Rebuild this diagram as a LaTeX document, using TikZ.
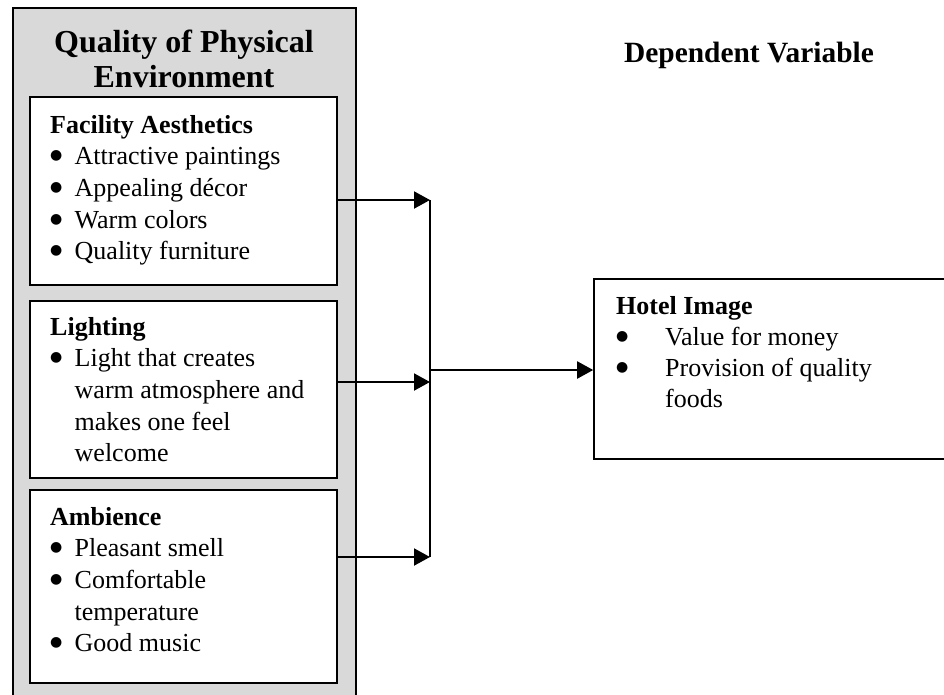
\documentclass[tikz,border=0pt]{standalone}
\usepackage{fontspec}
\setmainfont{Liberation Serif}
\newfontfamily\dejavu{DejaVu Sans}
\usetikzlibrary{arrows.meta}
\newcommand{\bigbul}{\raisebox{5pt}{\dejavu\fontsize{14}{14}\selectfont ●}}
\newcommand{\bul}{\makebox[24.5pt][l]{\bigbul}}
\newcommand{\ind}{\hspace*{24.5pt}}
\newcommand{\hbul}{\makebox[49pt][l]{\bigbul}}
\newcommand{\hind}{\hspace*{49pt}}
\begin{document}
\begin{tikzpicture}[x=1pt,y=-1pt,
  box/.style={draw, line width=1.8pt, fill=white, inner sep=0pt, minimum width=307pt},
  txt/.style={anchor=base west, inner sep=0pt, font=\fontsize{26}{31.7}\selectfont},
  link/.style={line width=2pt, -{Triangle[length=16pt,width=17pt]}},
]
\useasboundingbox (0,0) rectangle (944,694);
\clip (0,0) rectangle (944,694);
% outer grey frame
\node[draw, line width=2pt, fill=black!15, minimum width=343.5pt, minimum height=702pt, inner sep=0pt] (qpe) at (184.25,359) {};
% inner boxes
\node[box, minimum height=188pt] (fa) at (183.5,191) {};
\node[box, minimum height=177pt] (li) at (183.5,389.5) {};
\node[box, minimum height=193pt] (am) at (183.5,586.5) {};
% hotel image box
\node[draw, line width=1.6pt, fill=white, inner sep=0pt, minimum width=366pt, minimum height=180pt] (hotel) at (777,369) {};
% texts
\node[anchor=base, inner sep=0pt, font=\bfseries\fontsize{32}{35}\selectfont] (title) at (184,52)
  {\parbox[t]{330pt}{\centering Quality of Physical\\Environment}};
\node[anchor=base, inner sep=0pt, font=\bfseries\fontsize{29.4}{33}\selectfont] (dv) at (749,62) {Dependent Variable};
\node[txt] (fatxt) at (50,133) {\parbox[t]{285pt}{\textbf{Facility Aesthetics}\\
  \bul Attractive paintings\\
  \bul Appealing décor\\
  \bul Warm colors\\
  \bul Quality furniture}};
\node[txt] (litxt) at (50,335) {\parbox[t]{285pt}{\textbf{Lighting}\\
  \bul Light that creates\\
  \ind warm atmosphere and\\
  \ind makes one feel\\
  \ind welcome}};
\node[txt] (amtxt) at (50,525) {\parbox[t]{285pt}{\textbf{Ambience}\\
  \bul Pleasant smell\\
  \bul Comfortable\\
  \ind temperature\\
  \bul Good music}};
\node[txt, font=\fontsize{26}{31}\selectfont] (hotxt) at (616,314) {\parbox[t]{320pt}{\textbf{Hotel Image}\\
  \hbul Value for money\\
  \hbul Provision of quality\\
  \hind foods}};
% connectors
\coordinate (j1) at (430,200);
\coordinate (j2) at (430,382);
\coordinate (j3) at (430,557);
\coordinate (jm) at (430,370);
\draw[link] (fa.east |- j1) -- (j1);
\draw[link] (li.east |- j2) -- (j2);
\draw[link] (am.east |- j3) -- (j3);
\draw[line width=1.2pt] (j1) -- (j3);
\draw[link] (jm) -- (hotel.west |- jm);
\end{tikzpicture}
\end{document}
